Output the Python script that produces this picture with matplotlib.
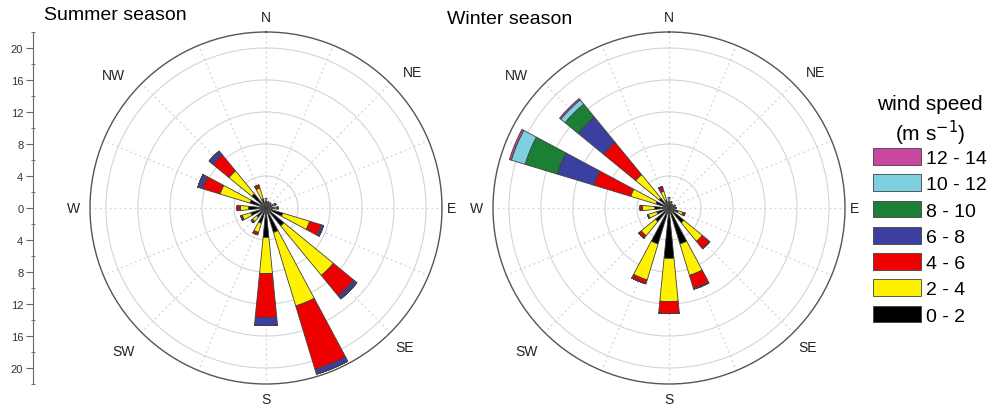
import numpy as np
import matplotlib
matplotlib.use('Agg')
import matplotlib.pyplot as plt
from matplotlib.patches import Patch

plt.rcParams['font.family'] = ['Liberation Sans', 'DejaVu Sans']

# ---------------------------------------------------------------------------
# Data: frequency (%) per direction and wind speed class
# ---------------------------------------------------------------------------
DIRECTIONS = ['N', 'NNE', 'NE', 'ENE', 'E', 'ESE', 'SE', 'SSE',
              'S', 'SSW', 'SW', 'WSW', 'W', 'WNW', 'NW', 'NNW']
SPEED_BINS = ['0 - 2', '2 - 4', '4 - 6', '6 - 8', '8 - 10', '10 - 12', '12 - 14']

summer_0_2 = [0.8, 0.6, 0.6, 0.9, 1.0, 2.2, 2.9, 3.2, 3.7, 2.0, 1.5, 2.0, 2.2, 2.1, 2.3, 1.2]
summer_2_4 = [0.4, 0.2, 0.2, 0.3, 0.3, 3.5, 8.0, 9.6, 4.5, 1.2, 0.7, 1.1, 1.0, 3.9, 3.7, 1.4]
summer_4_6 = [0.0, 0.0, 0.0, 0.1, 0.2, 1.5, 3.3, 8.3, 5.5, 0.3, 0.2, 0.2, 0.4, 2.3, 2.6, 0.4]
summer_6_8 = [0.0, 0.0, 0.0, 0.0, 0.0, 0.3, 0.5, 0.6, 1.0, 0.0, 0.0, 0.0, 0.0, 0.6, 0.6, 0.0]
summer_8_10 = [0.0] * 16
summer_10_12 = [0.0] * 16
summer_12_14 = [0.0] * 16

winter_0_2 = [0.8, 0.5, 0.4, 0.5, 0.6, 1.2, 2.4, 4.7, 6.3, 4.7, 2.2, 1.6, 1.8, 1.7, 1.6, 1.0]
winter_2_4 = [0.5, 0.3, 0.2, 0.3, 0.2, 0.6, 3.0, 4.1, 5.4, 4.7, 2.3, 1.1, 1.5, 3.3, 3.8, 1.2]
winter_4_6 = [0.0, 0.0, 0.0, 0.0, 0.1, 0.3, 1.2, 1.7, 1.5, 0.5, 0.4, 0.1, 0.3, 4.8, 5.2, 0.4]
winter_6_8 = [0.0, 0.0, 0.0, 0.0, 0.0, 0.0, 0.0, 0.1, 0.0, 0.0, 0.0, 0.0, 0.0, 4.8, 4.1, 0.2]
winter_8_10 = [0.0, 0.0, 0.0, 0.0, 0.0, 0.0, 0.0, 0.0, 0.0, 0.0, 0.0, 0.0, 0.0, 4.2, 2.1, 0.0]
winter_10_12 = [0.0, 0.0, 0.0, 0.0, 0.0, 0.0, 0.0, 0.0, 0.0, 0.0, 0.0, 0.0, 0.0, 1.8, 0.7, 0.0]
winter_12_14 = [0.0, 0.0, 0.0, 0.0, 0.0, 0.0, 0.0, 0.0, 0.0, 0.0, 0.0, 0.0, 0.0, 0.25, 0.2, 0.0]

SCALE_TICKS = list(range(-20, 21, 4))

# compass labels: (text, angle in degrees, radius in data units)
COMPASS = [('N', 0, 23.9), ('NE', 47, 25.0), ('E', 90, 23.2), ('SE', 135, 24.5),
           ('S', 180, 23.9), ('SW', 225, 25.2), ('W', 270, 24.1), ('NW', 311, 25.3)]

# Colour per speed class (0-2 ... 12-14)
COLORS = ['#000000', '#FFF200', '#EE0000', '#3B3FA0', '#1B7F35', '#7ECFE0', '#C8479F']
EDGE = '#404040'
GRID = '#d4d4d4'
RMAX = 22


def draw_rose(ax, series):
    theta = np.deg2rad(np.arange(len(DIRECTIONS)) * 22.5)
    width = np.deg2rad(11.25)
    bottom = np.zeros(len(DIRECTIONS))
    for vals, col in zip(series, COLORS):
        vals = np.asarray(vals)
        ax.bar(theta, vals, width=width, bottom=bottom, color=col,
               edgecolor=EDGE, linewidth=0.6, zorder=3)
        bottom += vals

    ax.set_theta_zero_location('N')
    ax.set_theta_direction(-1)
    ax.set_ylim(0, RMAX)
    ax.set_rgrids([4, 8, 12, 16, 20], labels=[])
    ax.set_thetagrids(np.arange(0, 360, 22.5), labels=[])
    ax.yaxis.grid(True, color=GRID, linewidth=0.8, linestyle='-')
    ax.xaxis.grid(True, color=GRID, linewidth=0.9, linestyle=(0, (1.5, 2.5)))
    ax.tick_params(axis='x', direction='in', length=5, width=0.9, colors='#555555')
    ax.spines['polar'].set_color('#555555')
    ax.spines['polar'].set_linewidth(1.0)
    ax.set_axisbelow(True)

    for lab, ang, r in COMPASS:
        ax.text(np.deg2rad(ang), r, lab, ha='center', va='center',
                fontsize=10, color='#222222')


fig = plt.figure(figsize=(9.95, 4.14), dpi=100)

bottom_f = 29 / 414
height_f = 352 / 414
width_f = 352 / 995

ax1 = fig.add_axes([90 / 995, bottom_f, width_f, height_f], projection='polar')
draw_rose(ax1, [summer_0_2, summer_2_4, summer_4_6, summer_6_8,
                summer_8_10, summer_10_12, summer_12_14])

ax2 = fig.add_axes([493 / 995, bottom_f, width_f, height_f], projection='polar')
draw_rose(ax2, [winter_0_2, winter_2_4, winter_4_6, winter_6_8,
                winter_8_10, winter_10_12, winter_12_14])

# Linear scale bar at the left
axs = fig.add_axes([33 / 995, bottom_f, 0.0005, height_f])
axs.set_ylim(-RMAX, RMAX)
axs.invert_yaxis()
axs.set_xticks([])
axs.set_yticks(SCALE_TICKS)
axs.set_yticklabels([str(abs(t)) for t in SCALE_TICKS], fontsize=8)
axs.set_yticks(range(-22, 23, 2), minor=True)
axs.tick_params(axis='y', which='major', direction='out', length=5, width=0.8,
                colors='#666666', labelcolor='#333333', pad=2)
axs.tick_params(axis='y', which='minor', direction='inout', length=3, width=0.6, colors='#666666')
for s in ['top', 'right', 'bottom']:
    axs.spines[s].set_visible(False)
axs.spines['left'].set_color('#666666')
axs.patch.set_visible(False)

fig.text(44 / 995, 1 - 16 / 414, 'Summer season', fontsize=14, ha='left', va='center')
fig.text(447 / 995, 1 - 20 / 414, 'Winter season', fontsize=14, ha='left', va='center')

handles = [Patch(facecolor=c, edgecolor=EDGE, linewidth=0.6) for c in COLORS][::-1]
labels = SPEED_BINS[::-1]
leg = fig.legend(handles, labels, loc='upper left', bbox_to_anchor=(873 / 995, 1 - 95 / 414),
                 frameon=False, fontsize=14, title='wind speed\n(m s$^{-1}$)',
                 title_fontsize=15, handlelength=2.45, handleheight=0.95,
                 handletextpad=0.3, labelspacing=0.37, borderpad=0, borderaxespad=0)
leg.get_title().set_multialignment('center')
leg._legend_box.sep = 1

fig.savefig('out.png', dpi=100)
